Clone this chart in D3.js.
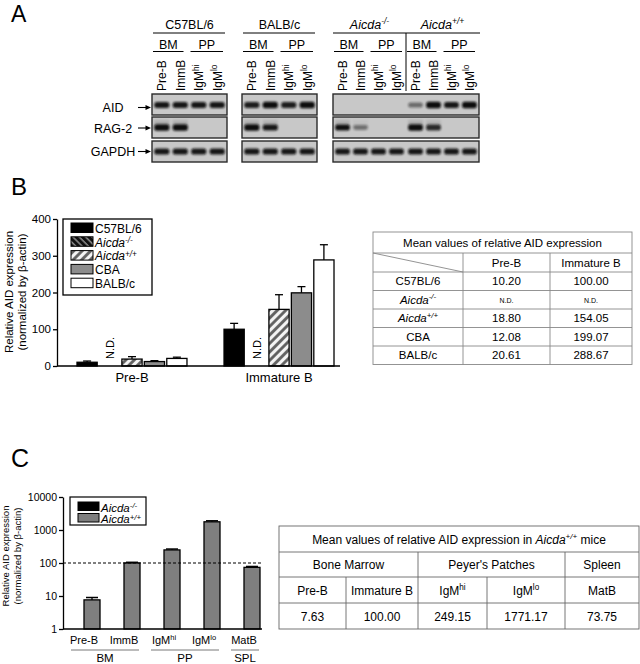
<!DOCTYPE html>
<html><head><meta charset="utf-8">
<script src="https://cdn.jsdelivr.net/npm/d3@7"></script>
<style>body{margin:0;background:#fff} svg{display:block;font-family:"Liberation Sans",Arial,sans-serif}</style>
</head><body><svg id="fig" width="640" height="664"></svg>
<script>
// ---------------- DATA ----------------
// Panel A (RT-PCR gels): relative band intensity per group x lane
const gelGroups = ["C57BL/6","BALB/c","Aicda^-/-","Aicda^+/+"];
const gelTissues = ["BM","PP"];
const gelLanes = ["Pre-B","ImmB","IgM^hi","IgM^lo"];
const genes = ["AID","RAG-2","GAPDH"];
const bandAID   = [[1,1,1,1],[0.95,1.1,0.95,1.25],[0,0,0,0],[0.35,1.1,1,1.25]];
const bandRAG2  = [[1.2,1.1,0,0],[1.15,1,0,0],[1.05,0.3,0,0],[1.15,0.85,0,0]];
const bandGAPDH = [[1,1,1,1],[1,1,1,1],[1,1,1,1],[1,1,1,1]];

// Panel B
const strains = ["C57BL/6","Aicda^-/-","Aicda^+/+","CBA","BALB/c"];
const stages = ["Pre-B","Immature B"];
const meanPreB = [10.20,null,18.80,12.08,20.61];
const meanImmB = [100.00,null,154.05,199.07,288.67];
const errPreB = [13.5,null,25.5,14.5,24];
const errImmB = [116,null,194,216,330];
const yTicksB = [0,100,200,300,400];
const tableBTitle = "Mean values of relative AID expression";
const tableBHead = ["Pre-B","Immature B"];
const tableBPre = ["10.20","N.D.","18.80","12.08","20.61"];
const tableBImm = ["100.00","N.D.","154.05","199.07","288.67"];

// Panel C
const cellTypes = ["Pre-B","ImmB","IgM^hi","IgM^lo","MatB"];
const tissuesC = ["BM","BM","PP","PP","SPL"];
const genotypes = ["Aicda^-/-","Aicda^+/+"];
const meanKO = [null,null,null,null,null];
const meanWT = [7.63,100,249.15,1771.17,73.75];
const errWT = [9.0,105,265,1900,78.5];
const yTicksC = [1,10,100,1000,10000];
const tableCTissues = ["Bone Marrow","Peyer's Patches","Spleen"];
const tableCSpan = [2,2,1];
const tableCCells = ["Pre-B","Immature B","IgM^hi","IgM^lo","MatB"];
const tableCValues = ["7.63","100.00","249.15","1771.17","73.75"];

// ---------------- HELPERS ----------------
const svg = d3.select("#fig");
function rich(sel, str, size, italic, supShift) {
  const [base, sup] = str.split("^");
  const ital = italic !== undefined ? italic : base.startsWith("Aicda");
  const t1 = sel.append("tspan").text(base);
  if (ital) t1.attr("font-style","italic");
  if (sup) {
    const t2 = sel.append("tspan").text(sup).attr("font-size", size*0.68).attr("dy", -size*(supShift || 0.38));
    if (ital) t2.attr("font-style","italic");
  }
  return sel;
}
function line(g, x1, y1, x2, y2, w, c) {
  return g.append("line").attr("x1",x1).attr("y1",y1).attr("x2",x2).attr("y2",y2)
    .attr("stroke", c || "#000").attr("stroke-width", w || 1);
}

const defs = svg.append("defs");
defs.append("filter").attr("id","blur").attr("x","-20%").attr("y","-50%").attr("width","140%").attr("height","200%")
  .append("feGaussianBlur").attr("stdDeviation",0.85);
const pKO = defs.append("pattern").attr("id","hKO").attr("patternUnits","userSpaceOnUse")
  .attr("width",4.5).attr("height",4.5).attr("patternTransform","rotate(-45)");
pKO.append("rect").attr("width",4.5).attr("height",4.5).attr("fill","#111");
pKO.append("line").attr("x1",1).attr("y1",0).attr("x2",1).attr("y2",4.5).attr("stroke","#bbb").attr("stroke-width",1.1);
const pWT = defs.append("pattern").attr("id","hWT").attr("patternUnits","userSpaceOnUse")
  .attr("width",6).attr("height",6).attr("patternTransform","rotate(45)");
pWT.append("rect").attr("width",6).attr("height",6).attr("fill","#f4f4f4");
pWT.append("line").attr("x1",1.5).attr("y1",0).attr("x2",1.5).attr("y2",6).attr("stroke","#5e5e5e").attr("stroke-width",2.8);

// ---------------- PANEL A ----------------
const gA = svg.append("g");
gA.append("text").attr("x",11).attr("y",22).attr("font-size",23).text("A");
const gelRanges = [[152,227],[242,317],[333,406],[406,479]];
const boxes = [[152,227],[242,317],[333,479]];
const rowY = [[94,115],[117,138],[141,162]];
const bandCY = [105, 127.5, 151.5];
const bandSets = [bandAID, bandRAG2, bandGAPDH];
boxes.forEach(b => rowY.forEach(r => gA.append("rect").attr("x",b[0]).attr("y",r[0])
  .attr("width",b[1]-b[0]).attr("height",r[1]-r[0]).attr("fill","#c8c8c8")
  .attr("stroke","#2a2a2a").attr("stroke-width",1.4)));
gelGroups.forEach((grp, gi) => {
  const [x0, x1] = gelRanges[gi];
  const lx = d3.scaleBand().domain(gelLanes).range([x0, x1]).paddingInner(0.18).paddingOuter(0.12);
  const bw = lx.bandwidth();
  genes.forEach((gene, ri) => {
    gelLanes.forEach((lane, li) => {
      const v = bandSets[ri][gi][li];
      if (!v) return;
      if (ri === 1) {
        gA.append("rect").attr("x", lx(lane)).attr("y", rowY[ri][0]+3).attr("width", bw)
          .attr("height", bandCY[ri]-rowY[ri][0]-4).attr("fill","#222").attr("opacity",0.12*v)
          .attr("filter","url(#blur)");
      }
      const h = 4.5 + 1.6*v;
      gA.append("rect").attr("x", lx(lane)).attr("y", bandCY[ri]-h/2).attr("width", bw).attr("height", h)
        .attr("rx",2.5).attr("fill","#0e0e0e").attr("opacity", Math.min(1, 0.25+0.7*v))
        .attr("filter","url(#blur)");
    });
  });
  gelLanes.forEach(lane => {
    const t = gA.append("text").attr("font-size",12)
      .attr("transform",`translate(${lx(lane)+bw/2+4.5},91) rotate(-90)`);
    rich(t, lane, 12, false);
  });
  const mid = (x0+x1)/2;
  const gt = gA.append("text").attr("x", mid).attr("y",29).attr("font-size",12.5).attr("text-anchor","middle");
  rich(gt, grp, 12.5);
  if (gi < 2) line(gA, x0+1, 33, x1-2, 33, 1);
  else line(gA, x0, 33, x1+(gi===3?1:0), 33, 1);
  const spans = [[x0+1, mid-6],[mid+1, x1-4]];
  gelTissues.forEach((ts, ti) => {
    line(gA, spans[ti][0], 51.5, spans[ti][1], 51.5, 1);
    gA.append("text").attr("x",(spans[ti][0]+spans[ti][1])/2).attr("y",49).attr("font-size",12.5)
      .attr("text-anchor","middle").text(ts);
  });
});
line(gA, 406, 33, 406, 91, 1);
genes.forEach((gene, ri) => {
  const cy = [107.5,128,151.5][ri];
  gA.append("text").attr("x",113).attr("y",cy+4.5).attr("font-size",12.5).attr("text-anchor","middle").text(gene);
  line(gA, 138, cy, 148, cy, 1.1);
  gA.append("path").attr("d",`M151,${cy} L145.5,${cy-2.6} L145.5,${cy+2.6} Z`).attr("fill","#000");
});

// ---------------- PANEL B ----------------
const gB = svg.append("g");
gB.append("text").attr("x",11).attr("y",195).attr("font-size",24).text("B");
const yB = d3.scaleLinear().domain([0,400]).range([366,219]);
const xB = d3.scaleBand().domain(stages).range([57,354]).paddingInner(0.252).paddingOuter(0.136);
const xBi = d3.scaleBand().domain(strains).range([0, xB.bandwidth()]).paddingInner(0.1);
const fillsB = ["#000","url(#hKO)","url(#hWT)","#8c8c8c","#fff"];
const meansB = [meanPreB, meanImmB], errsB = [errPreB, errImmB];
stages.forEach((st, si) => {
  strains.forEach((s, k) => {
    const v = meansB[si][k];
    const x = xB(st) + xBi(s), w = xBi.bandwidth(), cx = x + w/2;
    if (v === null) {
      gB.append("text").attr("font-size",11).attr("transform",`translate(${cx+4},359) rotate(-90)`).text("N.D.");
      return;
    }
    const e = errsB[si][k];
    line(gB, cx, yB(v), cx, yB(e), 1.3);
    line(gB, cx-4, yB(e), cx+4, yB(e), 1.3);
    gB.append("rect").attr("x", x).attr("y", yB(v)).attr("width", w).attr("height", yB(0)-yB(v))
      .attr("fill", fillsB[k]).attr("stroke","#000").attr("stroke-width",1.3);
  });
});
const axYB = gB.append("g").attr("transform","translate(57,0)")
  .call(d3.axisLeft(yB).tickValues(yTicksB).tickSize(4).tickSizeOuter(0).tickPadding(2));
axYB.selectAll("text").attr("font-size",11.5).attr("font-family","Liberation Sans, Arial, sans-serif").attr("fill","#000");
axYB.selectAll("path,line").attr("stroke-width",1.3).attr("stroke","#000");
line(gB, 57, 366, 340, 366, 1.3);
const axXB = gB.append("g").attr("transform","translate(0,366)")
  .call(d3.axisBottom(xB).tickSize(0).tickPadding(7));
axXB.select(".domain").remove();
axXB.selectAll("text").attr("font-size",13).attr("font-family","Liberation Sans, Arial, sans-serif").attr("fill","#000");
gB.append("text").attr("transform","translate(13,292) rotate(-90)").attr("font-size",11.5).attr("text-anchor","middle").text("Relative AID expression");
gB.append("text").attr("transform","translate(26,292) rotate(-90)").attr("font-size",11.5).attr("text-anchor","middle").text("(normalized by β-actin)");
// legend
gB.append("rect").attr("x",63).attr("y",219).attr("width",89).attr("height",76).attr("fill","#fff").attr("stroke","#000").attr("stroke-width",1.3);
strains.forEach((s, k) => {
  const yy = 223 + k*13.8;
  gB.append("rect").attr("x",71).attr("y",yy).attr("width",22).attr("height",9.5).attr("fill",fillsB[k]).attr("stroke","#000").attr("stroke-width",1);
  rich(gB.append("text").attr("x",95).attr("y",yy+9.8).attr("font-size",12), s, 12, undefined, 0.3);
});
// table B
const tbX = [373,463,550,632];
const tbY = [232,253,272,290.5,309,327.5,346,364.5];
const tbC = "#888";
const gT = gB.append("g");
gT.append("rect").attr("x",tbX[0]).attr("y",tbY[0]).attr("width",tbX[3]-tbX[0]).attr("height",tbY[7]-tbY[0]).attr("fill","none").attr("stroke",tbC).attr("stroke-width",0.9);
tbY.slice(1,7).forEach(y => line(gT, tbX[0], y, tbX[3], y, 0.9, tbC));
[tbX[1],tbX[2]].forEach(x => line(gT, x, tbY[1], x, tbY[7], 0.9, tbC));
line(gT, tbX[0], tbY[1], tbX[1], tbY[2], 0.9, tbC);
gT.append("text").attr("x",(tbX[0]+tbX[3])/2).attr("y",(tbY[0]+tbY[1])/2+4).attr("font-size",11.5).attr("text-anchor","middle").text(tableBTitle);
tableBHead.forEach((h,i) => gT.append("text").attr("x",(tbX[i+1]+tbX[i+2])/2).attr("y",(tbY[1]+tbY[2])/2+4).attr("font-size",11.5).attr("text-anchor","middle").text(h));
strains.forEach((s,k) => {
  const cy = (tbY[k+2]+tbY[k+3])/2 + 4;
  rich(gT.append("text").attr("x",(tbX[0]+tbX[1])/2).attr("y",cy).attr("font-size",11.5).attr("text-anchor","middle"), s, 11.5);
  [tableBPre[k], tableBImm[k]].forEach((v,i) => {
    const nd = v === "N.D.";
    gT.append("text").attr("x",(tbX[i+1]+tbX[i+2])/2).attr("y", nd ? cy-1 : cy).attr("font-size", nd ? 7 : 11.5)
      .attr("text-anchor","middle").text(v);
  });
});

// ---------------- PANEL C ----------------
const gC = svg.append("g");
gC.append("text").attr("x",11).attr("y",467).attr("font-size",25).text("C");
const yC = d3.scaleLog().domain([1,10000]).range([629,497]);
const xC = d3.scaleBand().domain(cellTypes).range([64,264]);
const xCi = d3.scaleBand().domain(genotypes).range([4,36]);
const fillsC = ["#000","#7f7f7f"];
const meansC = [meanKO, meanWT];
genotypes.forEach((gt, gi) => {
  cellTypes.forEach((c, k) => {
    const v = meansC[gi][k];
    if (v === null) return;
    const x = xC(c) + xCi(gt), w = xCi.bandwidth(), cx = x + w/2;
    if (gi === 1) {
      const e = errWT[k];
      line(gC, cx, yC(v), cx, yC(e), 1.3);
      line(gC, cx-6, yC(e), cx+6, yC(e), 1.5);
    }
    gC.append("rect").attr("x",x).attr("y",yC(v)).attr("width",w).attr("height",yC(1)-yC(v))
      .attr("fill",fillsC[gi]).attr("stroke","#000").attr("stroke-width",1.3);
  });
});
line(gC, 63, yC(100), 262, yC(100), 1.1).attr("stroke-dasharray","3,2");
const axYC = gC.append("g").attr("transform","translate(63,0)")
  .call(d3.axisLeft(yC).tickValues(yTicksC).tickFormat(d3.format("d")).tickSize(4).tickSizeOuter(0).tickPadding(2));
axYC.selectAll("text").attr("font-size",10.5).attr("font-family","Liberation Sans, Arial, sans-serif").attr("fill","#000");
axYC.selectAll("path,line").attr("stroke-width",1.3).attr("stroke","#000");
line(gC, 63, 629, 262, 629, 1.3);
const axXC = gC.append("g").attr("transform","translate(0,629)")
  .call(d3.axisBottom(xC).tickSize(0).tickPadding(7));
axXC.select(".domain").remove();
axXC.selectAll("text").attr("font-size",11).attr("font-family","Liberation Sans, Arial, sans-serif").attr("fill","#000")
  .each(function(d){ const t = d3.select(this); t.text(null); rich(t, d, 11, false); });
const runs = [];
tissuesC.forEach((t,k) => {
  if (runs.length && runs[runs.length-1].t === t) runs[runs.length-1].end = k;
  else runs.push({t, start:k, end:k});
});
runs.forEach(r => {
  const xa = xC(cellTypes[r.start]) + 7, xb = xC(cellTypes[r.end]) + xC.bandwidth() - 5;
  line(gC, xa, 650, xb, 650, 0.8, "#555");
  gC.append("text").attr("x",(xa+xb)/2).attr("y",662).attr("font-size",11.5).attr("text-anchor","middle").text(r.t);
});
gC.append("text").attr("transform","translate(9,556) rotate(-90)").attr("font-size",9.5).attr("text-anchor","middle").text("Relative AID expression");
gC.append("text").attr("transform","translate(21,556) rotate(-90)").attr("font-size",9.5).attr("text-anchor","middle").text("(normalized by β-actin)");
// legend C
gC.append("rect").attr("x",70).attr("y",497).attr("width",76).attr("height",28).attr("fill","#fff").attr("stroke","#000").attr("stroke-width",1.2);
genotypes.forEach((gt, gi) => {
  const yy = 502 + gi*11.5;
  gC.append("rect").attr("x",78).attr("y",yy).attr("width",21).attr("height",8.5).attr("fill",fillsC[gi]).attr("stroke","#000").attr("stroke-width",1);
  rich(gC.append("text").attr("x",101).attr("y",yy+9.5).attr("font-size",11.5), gt, 11.5, undefined, 0.3);
});
// table C
const tcX = [279,346,418,487,565,639];
const tcY = [526,552,577,603,629];
const tcC = "#666";
const gTC = gC.append("g");
gTC.append("rect").attr("x",tcX[0]).attr("y",tcY[0]).attr("width",tcX[5]-tcX[0]).attr("height",tcY[4]-tcY[0]).attr("fill","none").attr("stroke",tcC).attr("stroke-width",0.9);
tcY.slice(1,4).forEach(y => line(gTC, tcX[0], y, tcX[5], y, 0.9, tcC));
let ci = 0;
const tissueBounds = tableCSpan.map(s => { const b = [tcX[ci], tcX[ci+s]]; ci += s; return b; });
tissueBounds.slice(1).forEach(b => line(gTC, b[0], tcY[1], b[0], tcY[2], 0.9, tcC));
tcX.slice(1,5).forEach(x => line(gTC, x, tcY[2], x, tcY[4], 0.9, tcC));
const tt = gTC.append("text").attr("x",(tcX[0]+tcX[5])/2).attr("y",(tcY[0]+tcY[1])/2+4.5).attr("font-size",12).attr("text-anchor","middle");
tt.append("tspan").text("Mean values of relative AID expression in ");
tt.append("tspan").attr("font-style","italic").text("Aicda");
tt.append("tspan").attr("font-style","italic").attr("font-size",8).attr("dy",-4.5).text("+/+");
tt.append("tspan").attr("dy",4.5).text(" mice");
tableCTissues.forEach((t,i) => gTC.append("text").attr("x",(tissueBounds[i][0]+tissueBounds[i][1])/2)
  .attr("y",(tcY[1]+tcY[2])/2+4.5).attr("font-size",12).attr("text-anchor","middle").text(t));
tableCCells.forEach((c,i) => {
  rich(gTC.append("text").attr("x",(tcX[i]+tcX[i+1])/2).attr("y",(tcY[2]+tcY[3])/2+4.5).attr("font-size",12).attr("text-anchor","middle"), c, 12, false);
  gTC.append("text").attr("x",(tcX[i]+tcX[i+1])/2).attr("y",(tcY[3]+tcY[4])/2+4.5).attr("font-size",12).attr("text-anchor","middle").text(tableCValues[i]);
});
</script></body></html>
